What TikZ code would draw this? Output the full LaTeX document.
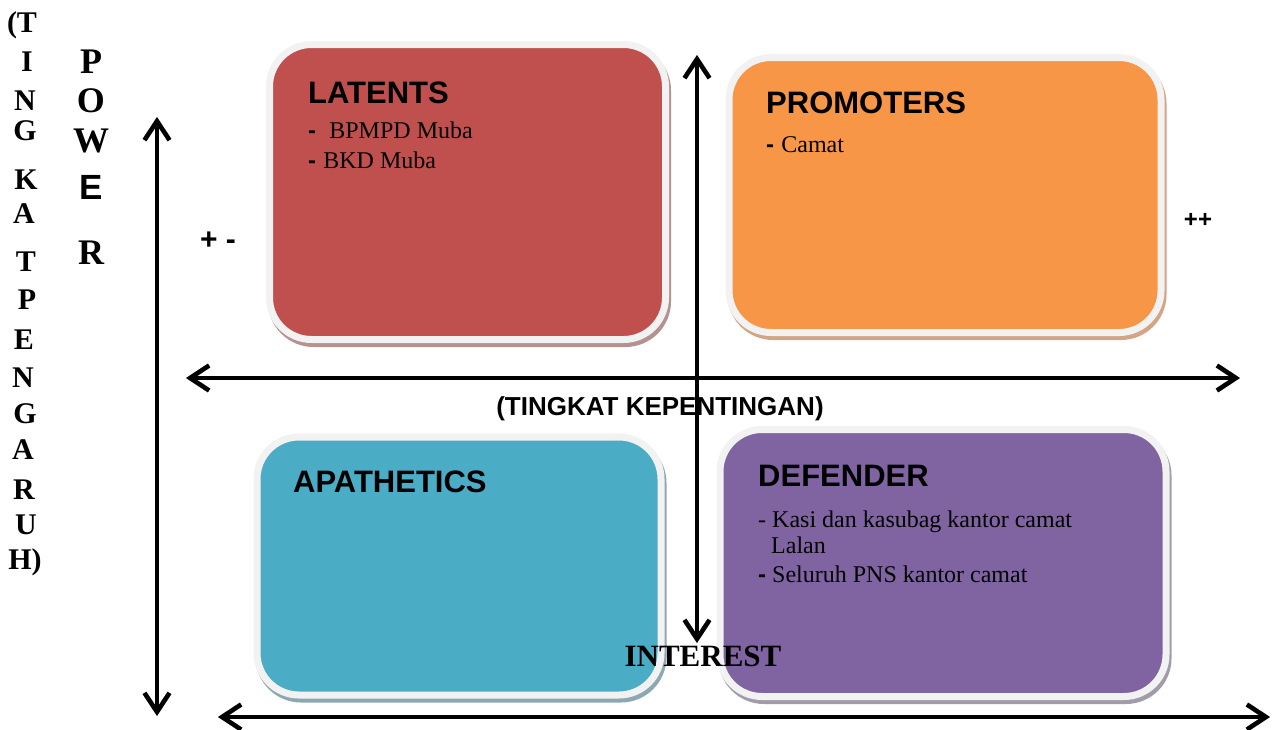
\documentclass[tikz,border=0pt]{standalone}
\usepackage{fontspec}
\setmainfont{Liberation Serif}
\setsansfont{Liberation Sans}
\usetikzlibrary{arrows.meta, shadows, positioning}

\definecolor{latentred}{HTML}{C0504D}
\definecolor{latentshade}{HTML}{B39290}
\definecolor{promoorange}{HTML}{F79646}
\definecolor{promoshade}{HTML}{D3A585}
\definecolor{apathblue}{HTML}{4BACC6}
\definecolor{apathshade}{HTML}{8CA8B1}
\definecolor{defpurple}{HTML}{8064A2}
\definecolor{defshade}{HTML}{A29CAA}
\definecolor{framegray}{HTML}{F2F2F2}

\tikzset{
  quad/.style 2 args={draw=framegray, fill=#1, line width=7pt, rounded corners=42pt,
    inner sep=0pt, outer sep=0pt,
    drop shadow={shadow xshift=2pt, shadow yshift=-4pt, opacity=1, fill=#2, draw=#2, line width=7pt}},
  title/.style={anchor=base west, inner sep=0pt, font=\sffamily\bfseries\fontsize{31}{31}\selectfont},
  item/.style={anchor=base west, inner sep=0pt, font=\fontsize{24}{24}\selectfont},
  letter/.style={inner sep=0pt, font=\bfseries\fontsize{30}{30}\selectfont},
  bigletter/.style={inner sep=0pt, font=\bfseries\fontsize{36}{36}\selectfont},
  axis/.style={line width=4.5pt, {Straight Barb[length=19pt,width=25pt]}-{Straight Barb[length=19pt,width=25pt]}},
  axisshadow/.style={axis, draw=black!35, shift={(2,3)}},
}
\newcommand{\dsh}{{\sffamily\bfseries -}}

\begin{document}
\begin{tikzpicture}[x=1pt, y=-1pt]
\useasboundingbox (0,0) rectangle (1278,729);

% quadrant boxes
\node[quad={latentred}{latentshade}, minimum width=396pt, minimum height=295pt] (latents) at (467.5,192) {};
\node[quad={promoorange}{promoshade}, minimum width=432pt, minimum height=275pt] (promoters) at (945,195) {};
\node[quad={apathblue}{apathshade}, minimum width=404pt, minimum height=258pt] (apathetics) at (459,566) {};
\node[quad={defpurple}{defshade}, minimum width=446pt, minimum height=267pt] (defender) at (943,563) {};

% box texts
\node[title] (latT) at (308,103) {LATENTS};
\node[item] (lat1) at (308,138) {\dsh\hspace{0.55em}BPMPD Muba};
\node[item] (lat2) at (308,168) {\dsh\hspace{0.3em}BKD Muba};

\node[title] (proT) at (766,113) {PROMOTERS};
\node[item] (pro1) at (766,152) {\dsh\hspace{0.3em}Camat};

\node[title] (apaT) at (293,492) {APATHETICS};

\node[title] (defT) at (758,486) {DEFENDER};
\node[item] (def1) at (758,527) {- Kasi dan kasubag kantor camat};
\node[item] (def2) at (771,553) {Lalan};
\node[item] (def3) at (758,582) {\dsh\hspace{0.25em}Seluruh PNS kantor camat};

% axes
\coordinate (pwTop) at (157,117);
\coordinate (pwBot) at (157,716);
\coordinate (inTop) at (697,55);
\coordinate (inBot) at (697,643);
\coordinate (kpL) at (186,378);
\coordinate (kpR) at (1240,378);
\coordinate (btL) at (218,717);
\coordinate (btR) at (1270,717);

\draw[axisshadow] (pwTop) -- (pwBot);
\draw[axisshadow] (inTop) -- (inBot);
\draw[axisshadow] (kpL) -- (kpR);
\draw[axisshadow] (btL) -- (btR);
\draw[axis] (pwTop) -- (pwBot);
\draw[axis] (inTop) -- (inBot);
\draw[axis] (kpL) -- (kpR);
\draw[axis] (btL) -- (btR);

% axis labels
\node[inner sep=0pt, font=\sffamily\bfseries\fontsize{26}{26}\selectfont] (kpLabel) at (660,409) {(TINGKAT KEPENTINGAN)};
\node[inner sep=0pt, font=\bfseries\fontsize{31}{31}\selectfont] (inLabel) at (703,656) {INTEREST};
\node[inner sep=0pt, font=\sffamily\bfseries\fontsize{30}{30}\selectfont] (pm) at (218,241) {+ -};
\node[inner sep=0pt, font=\sffamily\bfseries\fontsize{24}{24}\selectfont] (pp) at (1198,220) {++};

% vertical words
\foreach \ch/\xx/\yy [count=\i] in {{(T}/22/25, I/27/62, N/25/101, G/25/131, K/26/180, A/24/214,
    T/26/262, P/27/300, E/24/340, N/23/378, G/25/414, A/23/450, R/24/490, U/26/525, {H)}/25/562}
  \node[letter] (tk\i) at (\xx,\yy) {\ch};
\foreach \ch/\yy [count=\i] in {P/62, O/101, W/141, R/253}
  \node[bigletter] (pw\i) at (91,\yy) {\ch};
\node[bigletter, font=\sffamily\bfseries\fontsize{35}{35}\selectfont] (pwE) at (91,187) {E};
\end{tikzpicture}
\end{document}
